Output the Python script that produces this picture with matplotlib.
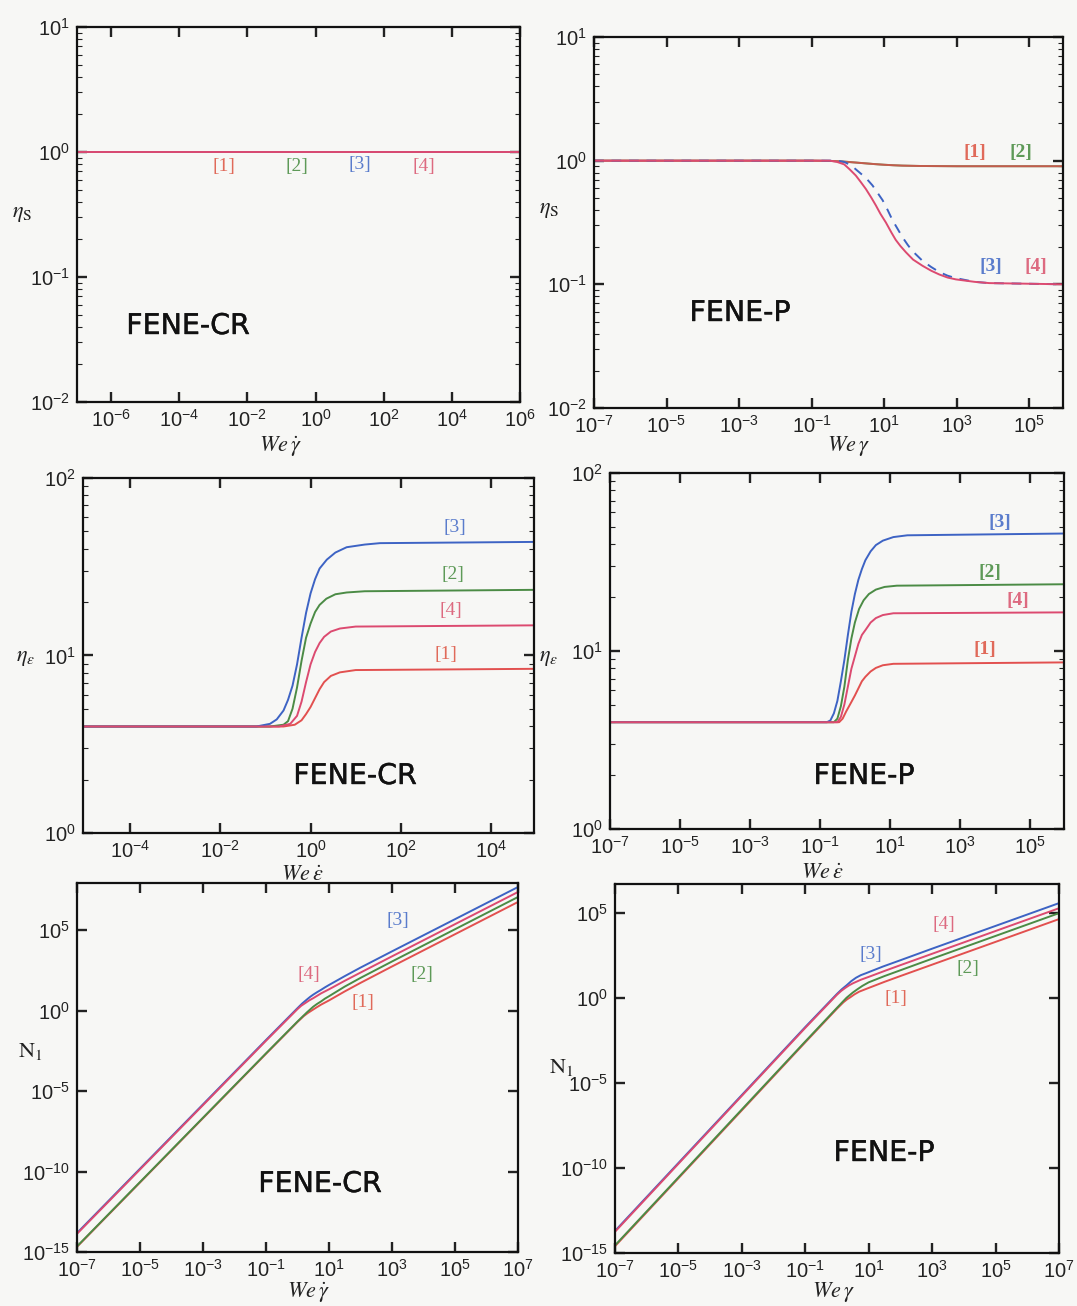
import numpy as np
import matplotlib
matplotlib.use('Agg')
import matplotlib.pyplot as plt
import matplotlib.patheffects as pe
from matplotlib.ticker import FixedLocator, FixedFormatter, NullLocator, LogLocator

# ---------------- data (log10 of values) ----------------
# Top-left: FENE-CR shear viscosity (all four cases identical)
tl_x = [-7, 6]
tl_eta = [0.0, 0.0]

# Top-right: FENE-P shear viscosity
tr_x12 = [-7, -1, -0.5, -0.2, 0, 0.25, 0.5, 0.75, 1.0, 1.25, 1.5, 2.0, 3.0, 6.0]
tr_eta12 = [0, 0, -0.002, -0.006, -0.01, -0.016, -0.022, -0.028, -0.033, -0.037, -0.04, -0.043, -0.045, -0.045]
tr_x3 = [-7, -0.3, -0.1, 0.1, 0.3, 0.5, 0.68, 0.82, 0.96, 1.1, 1.23, 1.37, 1.51, 1.65, 1.78,
         2.06, 2.3, 2.52, 2.75, 2.98, 3.5, 3.9, 6]
tr_eta3 = [0, 0, -0.01, -0.04, -0.09, -0.14, -0.2, -0.26, -0.32, -0.4, -0.48, -0.55, -0.62, -0.68, -0.73,
           -0.81, -0.86, -0.9, -0.93, -0.95, -0.98, -0.99, -1.0]
tr_x4 = [-7, -0.5, -0.3, -0.1, 0.05, 0.22, 0.35, 0.5, 0.65, 0.77, 0.9, 1.05, 1.2, 1.32, 1.45, 1.6,
         1.8, 2.06, 2.3, 2.52, 2.75, 2.98, 3.5, 3.9, 6]
tr_eta4 = [0, 0, -0.01, -0.03, -0.07, -0.12, -0.17, -0.23, -0.3, -0.36, -0.43, -0.5, -0.58, -0.64, -0.69, -0.74,
           -0.8, -0.85, -0.89, -0.92, -0.945, -0.96, -0.98, -0.99, -1.0]

# Middle-left: FENE-CR extensional viscosity
ml_x1 = [-5, -0.6, -0.35, -0.2, -0.1, 0.0, 0.1, 0.2, 0.3, 0.45, 0.65, 1.0, 5]
ml_e1 = [0.6, 0.6, 0.61, 0.635, 0.67, 0.71, 0.76, 0.81, 0.85, 0.885, 0.905, 0.918, 0.925]
ml_x2 = [-5, -0.9, -0.6, -0.5, -0.4, -0.3, -0.2, -0.1, 0.0, 0.1, 0.2, 0.35, 0.55, 0.8, 1.2, 5]
ml_e2 = [0.6, 0.6, 0.61, 0.63, 0.7, 0.82, 0.97, 1.1, 1.18, 1.245, 1.285, 1.32, 1.345, 1.355, 1.362, 1.37]
ml_x3 = [-5, -1.2, -0.9, -0.75, -0.6, -0.5, -0.4, -0.3, -0.2, -0.1, 0.0, 0.1, 0.2, 0.36, 0.55, 0.8, 1.2,
         1.54, 5]
ml_e3 = [0.6, 0.6, 0.615, 0.64, 0.69, 0.75, 0.83, 0.95, 1.1, 1.24, 1.35, 1.43, 1.49, 1.54, 1.58, 1.61, 1.625,
         1.633, 1.64]
ml_x4 = [-5, -0.7, -0.45, -0.3, -0.2, -0.1, 0.0, 0.1, 0.2, 0.3, 0.45, 0.65, 1.0, 5]
ml_e4 = [0.6, 0.6, 0.615, 0.66, 0.74, 0.85, 0.95, 1.02, 1.07, 1.105, 1.135, 1.152, 1.163, 1.17]

# Middle-right: FENE-P extensional viscosity
mr_x1 = [-7, -0.45, -0.35, -0.25, -0.11, 0.0, 0.1, 0.2, 0.3, 0.45, 0.6, 0.8, 1.1, 6]
mr_e1 = [0.6, 0.6, 0.62, 0.66, 0.71, 0.75, 0.79, 0.83, 0.855, 0.885, 0.905, 0.92, 0.928, 0.936]
mr_x2 = [-7, -0.6, -0.5, -0.4, -0.3, -0.2, -0.1, 0.0, 0.12, 0.25, 0.4, 0.6, 0.85, 1.2, 6]
mr_e2 = [0.6, 0.6, 0.62, 0.69, 0.8, 0.95, 1.07, 1.16, 1.236, 1.285, 1.32, 1.345, 1.36, 1.367, 1.375]
mr_x3 = [-7, -0.8, -0.7, -0.6, -0.5, -0.4, -0.3, -0.2, -0.1, 0.0, 0.1, 0.2, 0.3, 0.45, 0.6, 0.8, 1.1,
         1.5, 6]
mr_e3 = [0.6, 0.6, 0.61, 0.65, 0.72, 0.83, 0.95, 1.09, 1.22, 1.32, 1.40, 1.46, 1.51, 1.56, 1.595, 1.62, 1.64,
         1.65, 1.66]
mr_x4 = [-7, -0.5, -0.4, -0.3, -0.2, -0.1, 0.0, 0.1, 0.2, 0.31, 0.45, 0.6, 0.8, 1.1, 6]
mr_e4 = [0.6, 0.6, 0.63, 0.7, 0.8, 0.9, 0.97, 1.04, 1.09, 1.12, 1.16, 1.185, 1.202, 1.212, 1.217]

# Bottom-left: FENE-CR first normal stress difference
bl_x1 = [-7, -1, 0, 0.2, 0.33, 0.44, 0.6, 0.75, 1, 1.5, 2, 3, 7]
bl_n1 = [-14.68, -2.68, -0.7, -0.33, -0.14, 0.0, 0.2, 0.38, 0.64, 1.2, 1.73, 2.75, 6.76]
bl_x2 = [-7, -1, 0, 0.3, 0.5, 0.62, 0.75, 0.87, 1, 1.5, 2, 3, 7]
bl_n2 = [-14.65, -2.65, -0.67, -0.1, 0.25, 0.42, 0.58, 0.75, 0.9, 1.5, 2.04, 3.06, 7.07]
bl_x3 = [-7, -1, 0, 0.15, 0.3, 0.4, 0.5, 0.62, 0.75, 0.87, 1, 1.5, 2, 3, 7]
bl_n3 = [-13.82, -1.82, 0.16, 0.45, 0.7, 0.86, 1.0, 1.15, 1.3, 1.45, 1.6, 2.15, 2.68, 3.69, 7.69]
bl_x4 = [-7, -1, 0, 0.12, 0.25, 0.37, 0.5, 0.75, 1, 1.5, 2, 3, 7]
bl_n4 = [-13.87, -1.87, 0.1, 0.31, 0.48, 0.64, 0.78, 1.08, 1.33, 1.86, 2.37, 3.38, 7.38]

# Bottom-right: FENE-P first normal stress difference
br_x1 = [-7, -1, 0, 0.2, 0.32, 0.42, 0.55, 0.7, 1, 1.5, 2, 3, 5, 7]
br_n1 = [-14.6, -2.6, -0.62, -0.25, -0.07, 0.05, 0.22, 0.38, 0.6, 0.96, 1.3, 1.97, 3.31, 4.65]
br_x2 = [-7, -1, 0, 0.3, 0.5, 0.65, 0.8, 1, 1.5, 2, 3, 5, 7]
br_n2 = [-14.55, -2.55, -0.57, 0.02, 0.33, 0.53, 0.72, 0.93, 1.3, 1.64, 2.32, 3.66, 5.0]
br_x3 = [-7, -1, 0, 0.15, 0.3, 0.45, 0.6, 0.75, 0.92, 1.45, 2, 3, 5, 7]
br_n3 = [-13.7, -1.7, 0.25, 0.52, 0.75, 1.0, 1.2, 1.35, 1.47, 1.86, 2.23, 2.91, 4.25, 5.59]
br_x4 = [-7, -1, 0, 0.13, 0.26, 0.38, 0.5, 0.75, 1, 1.5, 2, 3, 5, 7]
br_n4 = [-13.75, -1.75, 0.2, 0.42, 0.6, 0.75, 0.87, 1.08, 1.25, 1.6, 1.94, 2.61, 3.95, 5.29]

# tick exponents
tl_xt = [-6, -4, -2, 0, 2, 4, 6]
odd_xt = [-7, -5, -3, -1, 1, 3, 5]
ml_xt = [-4, -2, 0, 2, 4]
bot_xt = [-7, -5, -3, -1, 1, 3, 5, 7]
top_yt = [-2, -1, 0, 1]
mid_yt = [0, 1, 2]
bot_yt = [-15, -10, -5, 0, 5]

case_labels = ['[1]', '[2]', '[3]', '[4]']

# ---------------- style ----------------
W, H = 1077, 1306
BG = '#f7f7f5'
C1, C2, C3, C4 = '#e2504f', '#4b8b45', '#3d63c4', '#dc4a70'
L1, L2, L3, L4 = '#e06a5a', '#5e9a58', '#5a7ccc', '#dd6a80'

plt.rcParams['font.family'] = ['Liberation Sans', 'DejaVu Sans']
plt.rcParams['mathtext.fontset'] = 'custom'
plt.rcParams['mathtext.rm'] = 'Liberation Sans'
plt.rcParams['mathtext.it'] = 'Liberation Sans:italic'

fig = plt.figure(figsize=(W / 100, H / 100), dpi=100)
fig.patch.set_facecolor(BG)


def add_ax(l, t, r, b):
    return fig.add_axes([l / W, 1 - b / H, (r - l) / W, (b - t) / H])


def tl(e):
    return r'$\mathrm{10^{%d}}$' % e


def setup(ax, xlim, ylim, xt, yt, yminor=True):
    ax.set_xscale('log')
    ax.set_yscale('log')
    ax.set_xlim(*xlim)
    ax.set_ylim(*ylim)
    ax.set_facecolor(BG)
    ax.xaxis.set_major_locator(FixedLocator([10.0 ** e for e in xt]))
    ax.xaxis.set_major_formatter(FixedFormatter([tl(e) for e in xt]))
    ax.xaxis.set_minor_locator(NullLocator())
    ax.yaxis.set_major_locator(FixedLocator([10.0 ** e for e in yt]))
    ax.yaxis.set_major_formatter(FixedFormatter([tl(e) for e in yt]))
    if yminor:
        ax.yaxis.set_minor_locator(LogLocator(base=10, subs=np.arange(2, 10), numticks=50))
    else:
        ax.yaxis.set_minor_locator(NullLocator())
    ax.tick_params(which='both', direction='in', top=True, right=True,
                   labelsize=14.5, colors='#222222')
    ax.tick_params(which='major', length=7, width=1.7, pad=5)
    ax.tick_params(which='minor', length=3.5, width=0.8)
    for s in ax.spines.values():
        s.set_linewidth(1.6)
        s.set_color('#111111')


def P(a):
    return 10.0 ** np.asarray(a, dtype=float)


def ft(x, y, s, **kw):
    return fig.text(x / W, 1 - y / H, s, ha='center', va='center', **kw)


LW = 1.4
ser = dict(family=['Liberation Serif', 'DejaVu Serif'], fontsize=14)
serb = dict(family=['Liberation Serif', 'DejaVu Serif'], fontsize=14, fontweight='bold')
model = dict(family=['DejaVu Sans'], fontsize=20.5, color='#111111',
             path_effects=[pe.withStroke(linewidth=0.3, foreground='#111111')])
stix = dict(math_fontfamily='stix', fontsize=16, color='#222222')

# ---------- top-left ----------
ax = add_ax(77, 27, 520, 402)
setup(ax, (1e-7, 1e6), (1e-2, 1e1), tl_xt, top_yt)
for c in (C1, C2, C3, C4):
    ax.plot(P(tl_x), P(tl_eta), color=c, lw=LW)
for (x, y), s, c in zip([(224, 166), (297, 166), (360, 164), (424, 166)], case_labels, (L1, L2, L3, L4)):
    ft(x, y, s, color=c, **ser)
ft(188, 326, 'FENE-CR', **model)
ft(22, 214, r'$\eta_\mathrm{S}$', **stix)
ft(280, 446, r'$We\,\dot{\gamma}$', **stix)

# ---------- top-right ----------
ax = add_ax(594, 37, 1063, 408)
setup(ax, (1e-7, 8.6e5), (1e-2, 1e1), odd_xt, top_yt)
ax.plot(P(tr_x12), P(tr_eta12), color=C2, lw=LW)
ax.plot(P(tr_x12), P(tr_eta12), color=C1, lw=LW, alpha=0.8)
ax.plot(P(tr_x3), P(tr_eta3), color=C3, lw=LW, ls=(0, (5, 4)))
ax.plot(P(tr_x4), P(tr_eta4), color=C4, lw=LW)
for (x, y), s, c in zip([(975, 153), (1021, 152), (991, 267), (1036, 267)], case_labels, (L1, L2, L3, L4)):
    ft(x, y, s, color=c, **serb)
ft(740, 313, 'FENE-P', **model)
ft(549, 210, r'$\eta_\mathrm{S}$', **stix)
ft(848, 446, r'$We\,\gamma$', **stix)

# ---------- middle-left ----------
ax = add_ax(83, 478, 534, 833)
setup(ax, (9e-6, 9e4), (1e0, 1e2), ml_xt, mid_yt)
ax.plot(P(ml_x1), P(ml_e1), color=C1, lw=LW)
ax.plot(P(ml_x2), P(ml_e2), color=C2, lw=LW)
ax.plot(P(ml_x3), P(ml_e3), color=C3, lw=LW)
ax.plot(P(ml_x4), P(ml_e4), color=C4, lw=LW)
for (x, y), s, c in zip([(446, 655), (453, 574), (455, 527), (451, 611)], case_labels, (L1, L2, L3, L4)):
    ft(x, y, s, color=c, **ser)
ft(355, 776, 'FENE-CR', **model)
ft(26, 657, r'$\eta_\varepsilon$', **stix)
ft(302, 874, r'$We\,\dot{\varepsilon}$', **stix)

# ---------- middle-right ----------
ax = add_ax(610, 473, 1064, 829)
setup(ax, (1e-7, 9.5e5), (1e0, 1e2), odd_xt, mid_yt)
ax.plot(P(mr_x1), P(mr_e1), color=C1, lw=LW)
ax.plot(P(mr_x2), P(mr_e2), color=C2, lw=LW)
ax.plot(P(mr_x3), P(mr_e3), color=C3, lw=LW)
ax.plot(P(mr_x4), P(mr_e4), color=C4, lw=LW)
for (x, y), s, c in zip([(985, 650), (990, 572), (1000, 522), (1018, 600)], case_labels, (L1, L2, L3, L4)):
    ft(x, y, s, color=c, **serb)
ft(864, 776, 'FENE-P', **model)
ft(549, 657, r'$\eta_\varepsilon$', **stix)
ft(822, 872, r'$We\,\dot{\varepsilon}$', **stix)

# ---------- bottom-left ----------
ax = add_ax(77, 883, 518, 1252)
setup(ax, (1e-7, 1e7), (1e-15, 8.7e7), bot_xt, bot_yt, yminor=False)
ax.plot(P(bl_x1), P(bl_n1), color=C1, lw=LW)
ax.plot(P(bl_x2), P(bl_n2), color=C2, lw=LW)
ax.plot(P(bl_x3), P(bl_n3), color=C3, lw=LW)
ax.plot(P(bl_x4), P(bl_n4), color=C4, lw=LW)
for (x, y), s, c in zip([(363, 1002), (422, 974), (398, 920), (309, 974)], case_labels, (L1, L2, L3, L4)):
    ft(x, y, s, color=c, **ser)
ft(320, 1184, 'FENE-CR', **model)
ft(30, 1052, r'$\mathrm{N}_1$', **stix)
ft(308, 1292, r'$We\,\dot{\gamma}$', **stix)

# ---------- bottom-right ----------
ax = add_ax(615, 884, 1059, 1253)
setup(ax, (1e-7, 1e7), (1e-15, 5.2e6), bot_xt, bot_yt, yminor=False)
ax.plot(P(br_x1), P(br_n1), color=C1, lw=LW)
ax.plot(P(br_x2), P(br_n2), color=C2, lw=LW)
ax.plot(P(br_x3), P(br_n3), color=C3, lw=LW)
ax.plot(P(br_x4), P(br_n4), color=C4, lw=LW)
for (x, y), s, c in zip([(896, 998), (968, 968), (871, 954), (944, 925)], case_labels, (L1, L2, L3, L4)):
    ft(x, y, s, color=c, **ser)
ft(884, 1153, 'FENE-P', **model)
ft(561, 1068, r'$\mathrm{N}_1$', **stix)
ft(833, 1292, r'$We\,\gamma$', **stix)

fig.savefig('out.png', dpi=100, facecolor=BG)
